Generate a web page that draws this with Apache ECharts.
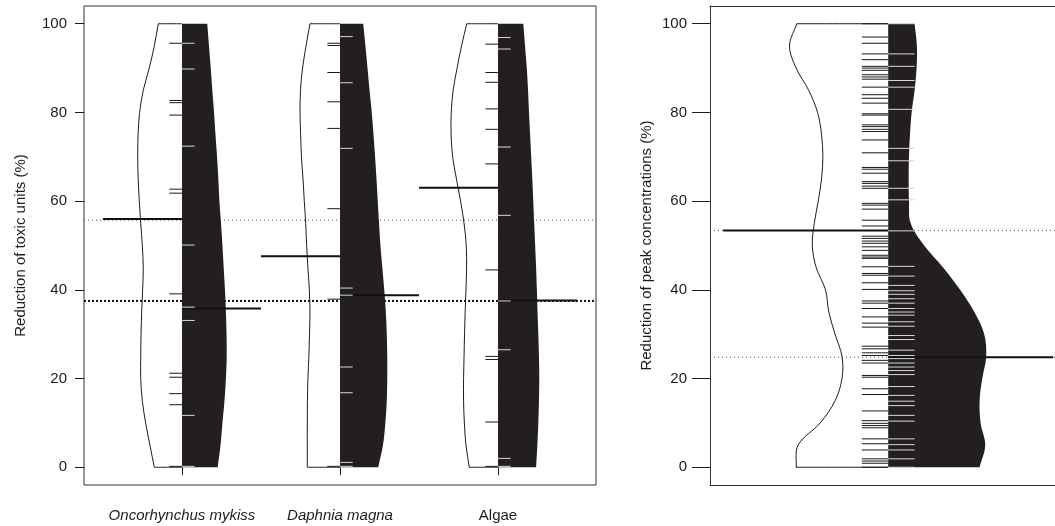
<!DOCTYPE html>
<html>
<head>
<meta charset="utf-8">
<script src="https://cdn.jsdelivr.net/npm/echarts@6/dist/echarts.min.js"></script>
<style>
  html, body { margin: 0; padding: 0; background: #ffffff; }
  #chart { width: 1055px; height: 526px; }
</style>
</head>
<body>
<div id="chart"></div>
<script>
// ---- species (left panel) ----
const categories = ['Oncorhynchus mykiss', 'Daphnia magna', 'Algae'];
const italicCategory = [true, true, false];
const yTicks = [0, 20, 40, 60, 80, 100];

// Reduction of toxic units (%), first scenario (left half of each bean)
const toxicFirstObs = [
  [95.6, 82.7, 82.2, 79.4, 62.7, 61.8, 39.1, 21.2, 20.3, 16.6, 14.1, 0.2],
  [95.6, 95.1, 89.0, 82.4, 76.4, 58.3, 37.9, 0.2],
  [95.4, 89.0, 86.8, 80.8, 76.2, 68.4, 44.5, 25.0, 24.3, 10.2, 0.2]
];
// Reduction of toxic units (%), second scenario (right half of each bean)
const toxicSecondObs = [
  [95.6, 89.8, 72.4, 50.1, 36.1, 33.1, 11.7, 0.2],
  [97.1, 86.7, 71.9, 40.4, 38.8, 22.6, 16.8, 1.1, 0.2],
  [96.9, 94.3, 72.2, 56.8, 37.5, 26.5, 2.0, 0.2]
];
const toxicFirstMean = [56.0, 47.6, 63.0];
const toxicSecondMean = [35.8, 38.8, 37.6];
const toxicOverallFirst = 55.7;
const toxicOverallSecond = 37.5;

// bean half-widths (x-axis units) at each density level
const densityLevels = [100, 95, 90, 85, 80, 75, 70, 65, 60, 55, 50, 45, 40, 35, 30, 25, 20, 15, 10, 5, 0];
const toxicFirstWidth = [
  [0.150, 0.175, 0.207, 0.245, 0.268, 0.278, 0.280, 0.277, 0.270, 0.261, 0.251, 0.245, 0.249, 0.255, 0.259, 0.261, 0.261, 0.251, 0.230, 0.203, 0.175],
  [0.190, 0.215, 0.237, 0.250, 0.253, 0.249, 0.244, 0.234, 0.226, 0.217, 0.211, 0.203, 0.194, 0.190, 0.193, 0.197, 0.203, 0.206, 0.207, 0.207, 0.207],
  [0.198, 0.231, 0.259, 0.284, 0.296, 0.297, 0.287, 0.263, 0.237, 0.215, 0.201, 0.199, 0.203, 0.208, 0.212, 0.215, 0.218, 0.218, 0.213, 0.203, 0.182]
];
const toxicSecondWidth = [
  [0.160, 0.171, 0.182, 0.192, 0.203, 0.212, 0.222, 0.230, 0.237, 0.247, 0.256, 0.264, 0.272, 0.278, 0.282, 0.283, 0.278, 0.269, 0.256, 0.244, 0.226],
  [0.147, 0.161, 0.174, 0.187, 0.201, 0.212, 0.222, 0.231, 0.239, 0.247, 0.256, 0.268, 0.280, 0.290, 0.296, 0.299, 0.299, 0.296, 0.287, 0.272, 0.242],
  [0.160, 0.171, 0.182, 0.190, 0.196, 0.203, 0.210, 0.217, 0.223, 0.229, 0.235, 0.241, 0.246, 0.250, 0.255, 0.259, 0.261, 0.259, 0.255, 0.249, 0.241]
];

// ---- peak concentrations (right panel) ----
const peakFirstObs = [100, 97.0, 95.6, 93.2, 91.9, 90.4, 90.0, 89.5, 88.5, 88.0, 87.5, 85.7, 84.0, 83.2, 82.1,
  79.7, 79.4, 77.2, 76.8, 76.2, 75.7, 73.8, 70.9, 67.6, 67.2, 66.3, 64.4, 64.0, 63.4, 62.9, 59.5, 59.1, 58.2,
  55.7, 54.4, 52.1, 51.6, 51.0, 50.5, 49.7, 48.9, 47.8, 47.4, 47.1, 45.2, 43.7, 43.3, 41.6, 40.1, 37.5, 37.0,
  35.8, 33.9, 32.5, 31.6, 27.3, 26.7, 25.8, 25.2, 24.1, 23.5, 20.7, 20.3, 17.7, 16.4, 12.7, 10.5, 9.9, 9.4,
  8.9, 6.4, 5.3, 3.9, 1.9, 1.4, 0.9, 0];
const peakSecondObs = [100, 93.2, 90.4, 87.2, 85.7, 80.7, 71.9, 69.1, 62.9, 60.3, 53.3, 45.3, 43.1, 41.0, 39.8,
  39.0, 38.0, 37.0, 35.8, 35.0, 34.3, 32.8, 31.8, 29.7, 28.8, 26.4, 25.2, 24.5, 23.5, 22.6, 21.8, 20.9, 18.2,
  16.2, 14.9, 13.9, 11.7, 10.4, 6.4, 5.1, 3.9, 1.9, 0];
const peakFirstMean = [53.4];
const peakSecondMean = [24.8];
const peakOverallFirst = 53.4;
const peakOverallSecond = 24.8;
const peakFirstWidth = [
  [0.277, 0.299, 0.279, 0.241, 0.214, 0.202, 0.198, 0.202, 0.212, 0.224, 0.230, 0.218, 0.190, 0.180, 0.161, 0.140, 0.140, 0.161, 0.206, 0.273, 0.279]
];
const peakSecondWidth = [
  [0.080, 0.087, 0.086, 0.080, 0.071, 0.066, 0.063, 0.062, 0.063, 0.068, 0.109, 0.167, 0.218, 0.261, 0.291, 0.297, 0.285, 0.277, 0.280, 0.294, 0.277]
];

// ---- drawing ----
const FONT = '"Liberation Sans", Arial, Helvetica, sans-serif';
const INK = '#1c1c1c';
const FRAME = '#333333';
const BEAN_FILL = '#231f20';
const BEANLINE_LEN = 0.08;   // x units
const MEAN_LEN = 0.5;        // x units

// smooth outline of one bean half: corners are doubled so they stay sharp
function halfPoints(api, center, widths, side, closed) {
  const top = densityLevels[0];
  const bot = densityLevels[densityLevels.length - 1];
  const ct = api.coord([center, top]);
  const cb = api.coord([center, bot]);
  const edge = densityLevels.map((lv, i) => api.coord([center + side * widths[i], lv]));
  const pts = closed ? [ct, ct] : [ct];
  pts.push(edge[0]);
  for (let i = 0; i < edge.length; i++) pts.push(edge[i]);
  pts.push(edge[edge.length - 1]);
  pts.push(cb);
  if (closed) pts.push(cb);
  return pts;
}

function beanSeries(axisIdx, centers, widthSets, side, filled, z) {
  return {
    type: 'custom', xAxisIndex: axisIdx, yAxisIndex: axisIdx, z: z, silent: true,
    data: centers.map(c => [c]),
    renderItem: function (params, api) {
      const k = params.dataIndex;
      const pts = halfPoints(api, api.value(0), widthSets[k], side, filled);
      if (filled) {
        return { type: 'polygon', shape: { points: pts, smooth: 0.35 },
          style: { fill: BEAN_FILL, stroke: null } };
      }
      return { type: 'polyline', shape: { points: pts, smooth: 0.35 },
        style: { fill: null, stroke: INK, lineWidth: 1 } };
    }
  };
}

// short horizontal lines, one per observation
function beanlineSeries(axisIdx, obsSets, side, color, z) {
  const data = [];
  obsSets.forEach((obs, k) => obs.forEach(v => data.push([k + 1, v])));
  return {
    type: 'custom', xAxisIndex: axisIdx, yAxisIndex: axisIdx, z: z, silent: true,
    data: data,
    renderItem: function (params, api) {
      const c = api.value(0), v = api.value(1);
      const p0 = api.coord([c, v]);
      const p1 = api.coord([c + side * BEANLINE_LEN, v]);
      return { type: 'line', shape: { x1: p0[0], y1: p0[1], x2: p1[0], y2: p1[1] },
        style: { stroke: color, lineWidth: 1 } };
    }
  };
}

function meanSeries(axisIdx, means, side, z) {
  return {
    type: 'custom', xAxisIndex: axisIdx, yAxisIndex: axisIdx, z: z, silent: true,
    data: means.map((m, k) => [k + 1, m]),
    renderItem: function (params, api) {
      const c = api.value(0), v = api.value(1);
      const p0 = api.coord([c, v]);
      const p1 = api.coord([c + side * MEAN_LEN, v]);
      return { type: 'line', shape: { x1: p0[0], y1: p0[1], x2: p1[0], y2: p1[1] },
        style: { stroke: '#111', lineWidth: 2 } };
    }
  };
}

function overallSeries(axisIdx, value, xr, style, z) {
  return {
    type: 'custom', xAxisIndex: axisIdx, yAxisIndex: axisIdx, z: z, silent: true,
    data: [[value]],
    renderItem: function (params, api) {
      const v = api.value(0);
      const p0 = api.coord([xr[0], v]);
      const p1 = api.coord([xr[1], v]);
      return { type: 'line', shape: { x1: p0[0], y1: p0[1], x2: p1[0], y2: p1[1] }, style: style };
    }
  };
}

const thinDots = { stroke: '#555', lineWidth: 1, lineDash: [1, 3] };
const heavyDots = { stroke: '#111', lineWidth: 2, lineDash: [2, 2] };

const leftRange = [0.38, 3.62];
// right panel runs past the page edge; only its visible part is laid out
const rightRange = [0.46, 0.46 + 345 / 330];

function yAxisDef(gridIndex, name, tickLen, labelMargin, showLine) {
  return {
    type: 'value', gridIndex: gridIndex, min: -4, max: 104,
    splitLine: { show: false },
    axisLine: { show: showLine, lineStyle: { color: FRAME, width: 1 } },
    axisTick: { show: true, length: tickLen, customValues: yTicks, lineStyle: { color: INK, width: 1 } },
    axisLabel: { customValues: yTicks, margin: labelMargin, color: INK, fontSize: 15, fontFamily: FONT },
    name: name, nameLocation: 'middle', nameRotate: 90, nameGap: 56,
    nameTextStyle: { color: INK, fontSize: 15, fontFamily: FONT }
  };
}

const option = {
  animation: false,
  backgroundColor: '#ffffff',
  grid: [
    { left: 84, top: 6, width: 512, height: 479, show: true, borderColor: FRAME, borderWidth: 1, backgroundColor: 'transparent' },
    { left: 710, top: 6, width: 345, height: 479, show: false }
  ],
  xAxis: [
    {
      type: 'value', gridIndex: 0, min: leftRange[0], max: leftRange[1],
      splitLine: { show: false }, axisLine: { show: false },
      axisTick: { show: true, length: 8, customValues: [1, 2, 3], lineStyle: { color: INK } },
      axisLabel: {
        customValues: [1, 2, 3], margin: 23, color: INK, fontSize: 15, fontFamily: FONT,
        formatter: function (v) {
          const k = Math.round(v) - 1;
          return italicCategory[k] ? '{i|' + categories[k] + '}' : '{n|' + categories[k] + '}';
        },
        rich: {
          i: { fontStyle: 'italic', fontSize: 15, fontFamily: FONT, color: INK },
          n: { fontSize: 15, fontFamily: FONT, color: INK }
        }
      }
    },
    {
      type: 'value', gridIndex: 1, min: rightRange[0], max: rightRange[1], position: 'bottom',
      splitLine: { show: false }, axisLine: { show: true, onZero: false, lineStyle: { color: FRAME, width: 1 } },
      axisTick: { show: false }, axisLabel: { show: false }
    },
    {
      type: 'value', gridIndex: 1, min: rightRange[0], max: rightRange[1], position: 'top',
      splitLine: { show: false }, axisLine: { show: true, onZero: false, lineStyle: { color: FRAME, width: 1 } },
      axisTick: { show: false }, axisLabel: { show: false }
    }
  ],
  yAxis: [
    yAxisDef(0, 'Reduction of toxic units (%)', 9, 17, false),
    yAxisDef(1, 'Reduction of peak concentrations (%)', 18, 23, true)
  ],
  series: [
    // left panel
    overallSeries(0, toxicOverallFirst, leftRange, thinDots, 1),
    overallSeries(0, toxicOverallSecond, leftRange, heavyDots, 1),
    beanSeries(0, [1, 2, 3], toxicFirstWidth, -1, false, 2),
    beanSeries(0, [1, 2, 3], toxicSecondWidth, 1, true, 3),
    meanSeries(0, toxicFirstMean, -1, 4),
    meanSeries(0, toxicSecondMean, 1, 4),
    beanlineSeries(0, toxicFirstObs, -1, '#1a1a1a', 5),
    beanlineSeries(0, toxicSecondObs, 1, '#d8d8d8', 5),
    // right panel
    overallSeries(1, peakOverallFirst, rightRange, thinDots, 1),
    overallSeries(1, peakOverallSecond, rightRange, thinDots, 1),
    beanSeries(1, [1], peakFirstWidth, -1, false, 2),
    beanSeries(1, [1], peakSecondWidth, 1, true, 3),
    meanSeries(1, peakFirstMean, -1, 4),
    meanSeries(1, peakSecondMean, 1, 4),
    beanlineSeries(1, [peakFirstObs], -1, '#1a1a1a', 5),
    beanlineSeries(1, [peakSecondObs], 1, '#d8d8d8', 5)
  ]
};

const chart = echarts.init(document.getElementById('chart'));
chart.setOption(option);
</script>
</body>
</html>
